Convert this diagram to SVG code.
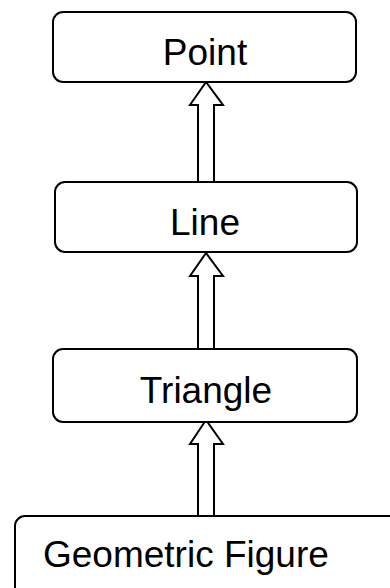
<svg xmlns="http://www.w3.org/2000/svg" width="390" height="588" viewBox="0 0 390 588">
<style>
.box{fill:#fff;stroke:#000;stroke-width:2}
.lbl{font-family:"Liberation Sans",Arial,sans-serif;font-size:37px;fill:#000}
.arr{fill:#fff;stroke:#000;stroke-width:2;stroke-linejoin:miter}
</style>
<rect width="390" height="588" fill="#fff"/>
<g id="connectors">
<polygon class="arr" points="206,82 190,105 198,105 198,182 214,182 214,105 223,105"/>
<polygon class="arr" points="206,253 190,276 198,276 198,349 214,349 214,276 223,276"/>
<polygon class="arr" points="206,420 190,444 198,444 198,517 214,517 214,444 223,444"/>
</g>
<g id="point">
<rect class="box" x="53" y="12" width="303" height="70" rx="10"/>
<text class="lbl" x="205" y="65" text-anchor="middle">Point</text>
</g>
<g id="line">
<rect class="box" x="55" y="182" width="302" height="70" rx="10"/>
<text class="lbl" x="205" y="235" text-anchor="middle">Line</text>
</g>
<g id="triangle">
<rect class="box" x="53" y="349" width="304" height="73" rx="10"/>
<text class="lbl" x="206" y="403" text-anchor="middle">Triangle</text>
</g>
<g id="geometric-figure">
<rect class="box" x="15" y="516" width="400" height="100" rx="10"/>
<text class="lbl" x="43" y="567">Geometric Figure</text>
</g>
</svg>
